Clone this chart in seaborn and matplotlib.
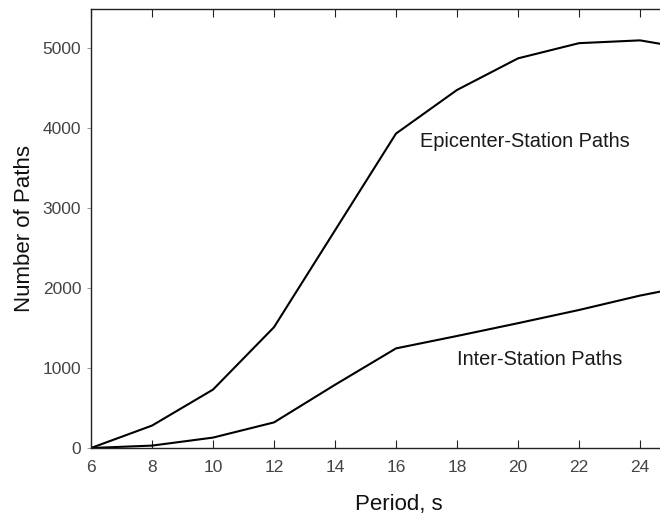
import pandas as pd
import matplotlib
matplotlib.use("Agg")
import matplotlib.pyplot as plt
import seaborn as sns

# values
period = [6, 8, 10, 12, 14, 16, 18, 20, 22, 24, 25]
epicenter_station = [0, 280, 730, 1510, 2720, 3930, 4475, 4870, 5060, 5095, 5030]
inter_station = [0, 30, 130, 320, 790, 1245, 1400, 1560, 1725, 1905, 1980]
x_ticks = [6, 8, 10, 12, 14, 16, 18, 20, 22, 24]
y_ticks = [0, 1000, 2000, 3000, 4000, 5000]


def main():
    data = pd.concat([
        pd.DataFrame({"Period": period, "Paths": epicenter_station, "Type": "Epicenter-Station Paths"}),
        pd.DataFrame({"Period": period, "Paths": inter_station, "Type": "Inter-Station Paths"}),
    ], ignore_index=True)

    sns.set_theme(style="ticks")
    plt.rcParams["font.family"] = ["Liberation Sans", "DejaVu Sans"]

    fig = plt.figure(figsize=(6.6, 5.21), dpi=100)
    # right edge of the axes sits just past the figure, like the cropped original
    ax = fig.add_axes([91 / 660, 73 / 521, 579.5 / 660, 439 / 521])

    sns.lineplot(
        data=data, x="Period", y="Paths", units="Type", estimator=None,
        color="black", linewidth=1.5, ax=ax, legend=False,
    )

    ax.set_xlim(6, 25)
    ax.set_ylim(0, 5487)
    ax.set_xticks(x_ticks)
    ax.set_yticks(y_ticks)

    ax.tick_params(axis="x", direction="in", length=6, width=0.8, pad=9,
                   top=True, labelsize=12.5, labelcolor="#444444", color="#222222")
    ax.tick_params(axis="y", direction="out", length=3, width=0.6, pad=4,
                   labelsize=12.5, labelcolor="#444444", color="#888888")
    for side in ["left", "bottom", "top"]:
        ax.spines[side].set_color("#222222")
        ax.spines[side].set_linewidth(1.0)
    ax.spines["right"].set_visible(False)

    ax.set_xlabel("Period, s", fontsize=16, color="#111111")
    ax.set_ylabel("Number of Paths", fontsize=16, color="#111111")
    ax.xaxis.set_label_coords(0.531, -0.105)
    ax.yaxis.set_label_coords(-0.097, 0.5)

    ax.text(16.79, 3830, "Epicenter-Station Paths", fontsize=14.4,
            color="#1a1a1a", va="center", ha="left")
    ax.text(17.99, 1112, "Inter-Station Paths", fontsize=14.4,
            color="#1a1a1a", va="center", ha="left")

    fig.savefig("out.png", dpi=100)


if __name__ == "__main__":
    main()
